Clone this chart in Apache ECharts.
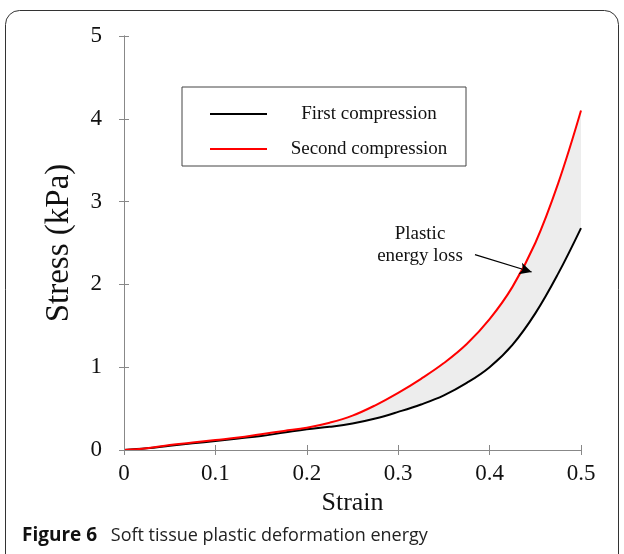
<!DOCTYPE html>
<html>
<head>
<meta charset="utf-8">
<script src="https://cdn.jsdelivr.net/npm/echarts@6/dist/echarts.min.js"></script>
<style>
	html, body { margin: 0; padding: 0; background: #fff; }
	#dom { width: 624px; height: 554px; }
</style>
</head>
<body>
<div id="dom"></div>
<script>
	// strain values (x)
	var strain = [0, 0.025, 0.05, 0.075, 0.1, 0.125, 0.15, 0.175, 0.2, 0.225, 0.25,
		0.275, 0.3, 0.325, 0.35, 0.375, 0.4, 0.425, 0.45, 0.475, 0.5];
	// stress (kPa)
	var firstCompression = [0, 0.02, 0.05, 0.08, 0.11, 0.14, 0.17, 0.21, 0.25, 0.28, 0.32,
		0.38, 0.46, 0.55, 0.66, 0.81, 1.0, 1.27, 1.65, 2.13, 2.68];
	var secondCompression = [0, 0.02, 0.06, 0.09, 0.12, 0.15, 0.19, 0.23, 0.27, 0.33, 0.415,
		0.54, 0.69, 0.86, 1.05, 1.28, 1.58, 1.97, 2.5, 3.22, 4.1];
	var xTicks = [0, 0.1, 0.2, 0.3, 0.4, 0.5];
	var yTicks = [0, 1, 2, 3, 4, 5];

	var serif = 'Liberation Serif';

	function pairs(ys) {
		return strain.map(function (s, i) { return [s, ys[i]] })
	}

	function axisBase() {
		return {
			type: 'value',
			z: 10,
			axisLine: { show: true, lineStyle: { color: '#888' } },
			axisTick: { show: true, inside: true, length: 5, lineStyle: { color: '#888' } },
			splitLine: { show: false }
		}
	}

	var xMain = Object.assign(axisBase(), {
		min: 0,
		max: 0.5,
		interval: 0.1,
		name: 'Strain',
		nameLocation: 'middle',
		nameGap: 40,
		nameTextStyle: { fontFamily: serif, fontSize: 26, color: '#111' },
		axisLabel: {
			fontFamily: serif, fontSize: 23, color: '#111', margin: 12,
			formatter: function (v) { return xTicks.indexOf(+v.toFixed(1)) >= 0 ? String(+v.toFixed(1)) : '' }
		}
	})
	var xTop = Object.assign(axisBase(), {
		position: 'top', min: 0, max: 0.5, interval: 0.1, axisLabel: { show: false }
	})
	var yMain = Object.assign(axisBase(), {
		min: 0,
		max: 5,
		interval: 1,
		name: 'Stress (kPa)',
		nameLocation: 'middle',
		nameGap: 48,
		nameTextStyle: { fontFamily: serif, fontSize: 33, color: '#111' },
		axisLabel: {
			fontFamily: serif, fontSize: 23, color: '#111', margin: 22,
			padding: [8, 0, 0, 0],
			formatter: function (v) { return yTicks.indexOf(v) >= 0 ? String(v) : '' }
		}
	})
	var yRight = Object.assign(axisBase(), {
		position: 'right', min: 0, max: 5, interval: 1, axisLabel: { show: false }
	})

	var chart = echarts.init(document.getElementById('dom'))
	var option = {
		animation: false,
		backgroundColor: '#fff',
		grid: {
			left: 124,
			right: 43,
			top: 36,
			bottom: 104
		},
		legend: {
			data: ['First compression', 'Second compression'],
			orient: 'vertical',
			left: 182,
			top: 87,
			padding: [16, 0, 6, 28],
			itemGap: 13,
			itemWidth: 57,
			itemHeight: 2,
			icon: 'rect',
			borderColor: '#444',
			borderWidth: 1,
			formatter: '{c|{name}}',
			textStyle: {
				fontFamily: serif,
				fontSize: 19,
				color: '#111',
				rich: {
					c: {
						width: 194,
						height: 22,
						lineHeight: 22,
						align: 'center',
						fontFamily: serif,
						fontSize: 19
					}
				}
			}
		},
		xAxis: [xMain, xTop],
		yAxis: [yMain, yRight],
		series: [{
			// grey band between the curves: grey under the red curve...
			name: 'band top',
			type: 'line',
			data: pairs(secondCompression),
			showSymbol: false,
			smooth: 0.4,
			lineStyle: { width: 0 },
			areaStyle: { color: '#ededed', opacity: 1 },
			silent: true,
			z: 1
		}, {
			// ...and white again under the black one
			name: 'band bottom',
			type: 'line',
			data: pairs(firstCompression),
			showSymbol: false,
			smooth: 0.4,
			lineStyle: { width: 0 },
			areaStyle: { color: '#fff', opacity: 1 },
			silent: true,
			z: 2
		}, {
			name: 'First compression',
			type: 'line',
			data: pairs(firstCompression),
			showSymbol: false,
			smooth: 0.4,
			color: '#000',
			lineStyle: { color: '#000', width: 2 },
			z: 3,
			markLine: {
				silent: true,
				symbol: ['none', 'arrow'],
				symbolSize: [9, 12],
				label: { show: false },
				lineStyle: { color: '#000', width: 1.2, type: 'solid' },
				data: [[{ coord: [0.384, 2.36] }, { coord: [0.446, 2.15] }]]
			}
		}, {
			name: 'Second compression',
			type: 'line',
			data: pairs(secondCompression),
			showSymbol: false,
			smooth: 0.4,
			color: '#ff0000',
			lineStyle: { color: '#ff0000', width: 2 },
			z: 4
		}],
		graphic: [{
			type: 'rect',
			shape: { x: 5.5, y: 10.5, width: 613, height: 580, r: 14 },
			style: { fill: 'none', stroke: '#333', lineWidth: 1 },
			z: -1
		}, {
			type: 'text',
			x: 420,
			y: 223,
			style: {
				text: 'Plastic\nenergy loss',
				align: 'center',
				font: '19px "Liberation Serif"',
				lineHeight: 22,
				fill: '#111'
			}
		}, {
			type: 'text',
			left: 22,
			top: 526,
			style: {
				rich: {
					b: { fontFamily: 'Open Sans', fontWeight: 'bold', fontSize: 19, fill: '#111' },
					n: { fontFamily: 'Open Sans', fontSize: 18, fill: '#222', padding: [0, 0, 0, 7] }
				},
				text: '{b|Figure 6}  {n|Soft tissue plastic deformation energy}'
			}
		}]
	}
	chart.setOption(option)
</script>
</body>
</html>
